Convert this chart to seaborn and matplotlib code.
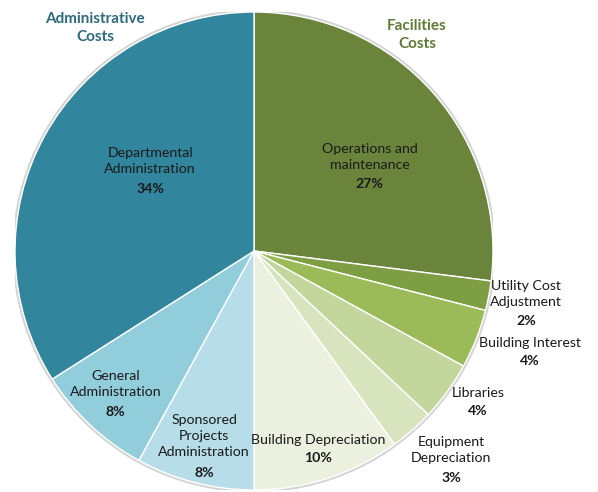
import seaborn as sns
import matplotlib.pyplot as plt
import numpy as np
from matplotlib.patches import Circle

# slices, clockwise from 12 o'clock
names = ["Operations and\nmaintenance", "Utility Cost\nAdjustment", "Building Interest",
         "Libraries", "Equipment\nDepreciation", "Building Depreciation",
         "Sponsored\nProjects\nAdministration", "General\nAdministration",
         "Departmental\nAdministration"]
shares = [27, 2, 4, 4, 3, 10, 8, 8, 34]
colors = ["#6B843C", "#7D9E43", "#9BBB59", "#C3D69B", "#D7E4BD", "#EBF1DE",
          "#B7DEE8", "#92CDDC", "#31859C"]

# label placement (radius factor, angle nudge in degrees)
lab_r = [0.60, 1.16, 1.23, 1.13, 1.20, 0.87, 0.84, 0.83, 0.55]
lab_da = [5, 0, -1.5, -2, -2, 0, 0, 1, 9]

sns.set_theme(style="white")
plt.rcParams['font.family'] = ['Lato', 'DejaVu Sans']

fig = plt.figure(figsize=(5.98, 4.92), dpi=100)
ax = fig.add_axes([15/598, 2/492, 478/598, 478/492])

ax.add_patch(Circle((0, 0), 1.008, color="#d4d4d4", zorder=0))
ax.pie(shares, colors=colors, startangle=90, counterclock=False, radius=1,
       wedgeprops=dict(edgecolor="white", linewidth=1.0))

total = sum(shares)
cum = np.cumsum([0] + shares[:-1])
L = 13.2  # line height in points
for i, (nm, v) in enumerate(zip(names, shares)):
    mid = (cum[i] + v / 2) / total * 360 + lab_da[i]
    th = np.deg2rad(90 - mid)
    x, y = lab_r[i] * np.cos(th), lab_r[i] * np.sin(th)
    n = nm.count("\n") + 1
    ax.annotate(nm, (x, y), xytext=(0, L / 2), textcoords="offset points",
                ha="center", va="center", fontsize=10.2, color="#1a1a1a",
                linespacing=1.4, annotation_clip=False)
    ax.annotate(f"{v}%", (x, y), xytext=(0, -n * L / 2), textcoords="offset points",
                ha="center", va="center", fontsize=10.2, fontweight="bold",
                color="#1a1a1a", annotation_clip=False)

fig.text(95/598, 1 - 28/492, "Administrative\nCosts", ha="center", va="center",
         fontsize=11, fontweight="bold", color="#2F6A7C", linespacing=1.45)
fig.text(417/598, 1 - 35/492, "Facilities\nCosts", ha="center", va="center",
         fontsize=11, fontweight="bold", color="#5F7A34", linespacing=1.45)

ax.set_xlim(-1, 1)
ax.set_ylim(-1, 1)
ax.axis("off")
fig.savefig("out.png", dpi=100)
